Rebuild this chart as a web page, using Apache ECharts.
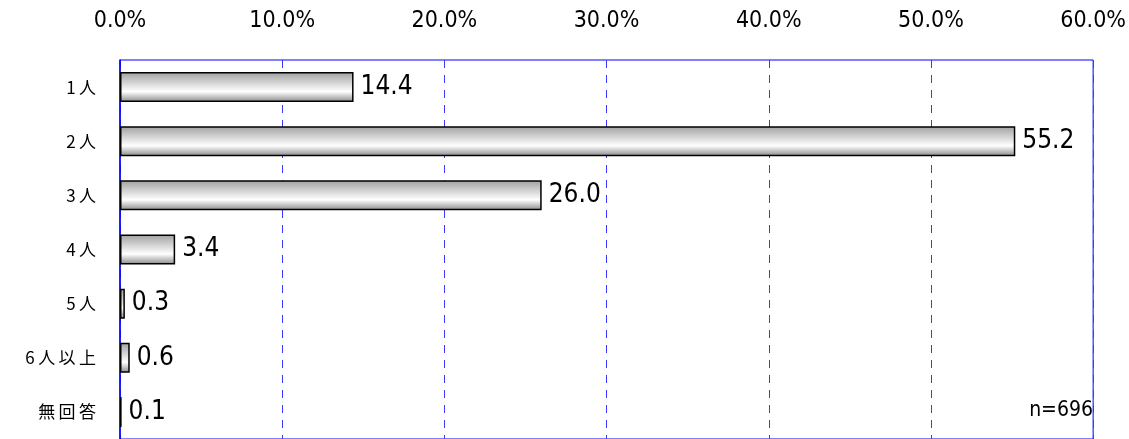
<!DOCTYPE html>
<html>
<head>
<meta charset="utf-8">
<script src="https://cdn.jsdelivr.net/npm/echarts@6/dist/echarts.min.js"></script>
<style>
html, body { margin: 0; padding: 0; background: #fff; }
#main { width: 1129px; height: 439px; }
</style>
</head>
<body>
<div id="main"></div>
<script>
var categories = ['1人', '2人', '3人', '4人', '5人', '6人以上', '無回答'];
var values = [14.4, 55.2, 26.0, 3.4, 0.3, 0.6, 0.1];
var sampleNote = 'n=696';

var myChart = echarts.init(document.getElementById('main'));
var narrow = '"DejaVu Sans Condensed", "Liberation Sans Narrow", sans-serif';

var option = {
  animation: false,
  grid: {
    left: 120,
    right: 34,
    top: 60,
    height: 380,
    show: true,
    borderColor: '#0000ff',
    borderWidth: 1
  },
  xAxis: {
    type: 'value',
    position: 'top',
    min: 0,
    max: 60,
    interval: 10,
    axisLine: { show: false },
    axisTick: { show: false },
    axisLabel: {
      margin: 27,
      color: '#000',
      fontSize: 23,
      fontFamily: narrow,
      formatter: function (v) { return v.toFixed(1) + '%'; }
    },
    splitLine: {
      show: true,
      lineStyle: { color: '#3a3aff', type: [8, 7], width: 1 }
    }
  },
  yAxis: {
    type: 'category',
    inverse: true,
    data: categories,
    axisLine: { show: true, lineStyle: { color: '#0000ff', width: 1.5 } },
    axisTick: { show: false },
    axisLabel: {
      margin: 24,
      color: '#000',
      fontSize: 17,
      fontFamily: '"Noto Sans CJK JP", sans-serif',
      formatter: function (v) { return v.split('').join('\u2009'); }
    }
  },
  series: [
    {
      type: 'bar',
      data: values,
      barWidth: 30,
      itemStyle: {
        borderColor: '#000',
        borderWidth: 1.5,
        color: new echarts.graphic.LinearGradient(0, 0, 0, 1, [
          { offset: 0, color: '#a0a0a0' },
          { offset: 0.65, color: '#ffffff' },
          { offset: 1, color: '#888888' }
        ])
      },
      label: {
        show: true,
        position: 'right',
        distance: 7,
        color: '#000',
        fontSize: 26,
        fontFamily: narrow,
        formatter: function (p) { return p.value.toFixed(1); }
      }
    }
  ],
  graphic: [
    {
      type: 'text',
      right: 36,
      top: 400,
      style: {
        text: sampleNote,
        fill: '#000',
        fontSize: 21,
        fontFamily: narrow
      }
    }
  ]
};

myChart.setOption(option);
window.addEventListener('resize', myChart.resize);
</script>
</body>
</html>
